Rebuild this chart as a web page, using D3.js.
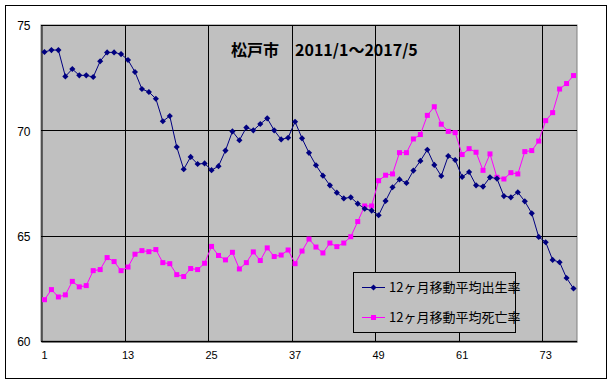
<!DOCTYPE html>
<html>
<head>
<meta charset="utf-8">
<script src="https://cdn.jsdelivr.net/npm/d3@7"></script>
<style>
  body { margin: 0; background: #fff; }
  svg { display: block; }
</style>
</head>
<body>
<svg id="chart" width="613" height="385"></svg>
<script>
const title = '松戸市　2011/1～2017/5'
const seriesNames = ['12ヶ月移動平均出生率', '12ヶ月移動平均死亡率']
const months = d3.range(1, 78)
const xTicks = [1, 13, 25, 37, 49, 61, 73]
const yTicks = [60, 65, 70, 75]

const birth = [
  73.72, 73.81, 73.81, 72.56, 72.91, 72.61, 72.61, 72.53, 73.28, 73.70, 73.70, 73.62,
  73.34, 72.77, 71.96, 71.82, 71.50, 70.43, 70.68, 69.21, 68.15, 68.74, 68.40, 68.43,
  68.11, 68.30, 69.04, 69.95, 69.53, 70.13, 70.00, 70.30, 70.57, 70.00, 69.57, 69.65,
  70.41, 69.62, 68.93, 68.34, 67.85, 67.39, 67.04, 66.77, 66.82, 66.52, 66.28, 66.19,
  65.97, 66.65, 67.30, 67.67, 67.50, 68.09, 68.55, 69.08, 68.36, 67.83, 68.78, 68.59,
  67.79, 68.02, 67.39, 67.33, 67.77, 67.71, 66.88, 66.82, 67.06, 66.63, 66.06, 64.94,
  64.69, 63.85, 63.74, 62.99, 62.49
]
const death = [
  61.96, 62.44, 62.09, 62.19, 62.83, 62.57, 62.63, 63.34, 63.39, 63.96, 63.77, 63.34,
  63.51, 64.12, 64.29, 64.24, 64.34, 63.72, 63.67, 63.15, 63.06, 63.44, 63.39, 63.69,
  64.49, 64.06, 63.85, 64.21, 63.42, 63.72, 64.23, 63.82, 64.42, 64.01, 64.08, 64.32,
  63.67, 64.27, 64.84, 64.46, 64.18, 64.65, 64.48, 64.65, 64.95, 65.67, 66.41, 66.41,
  67.61, 67.87, 67.93, 68.94, 68.94, 69.59, 69.80, 70.71, 71.12, 70.29, 69.95, 69.89,
  68.85, 69.13, 68.96, 68.10, 68.88, 67.77, 67.69, 67.99, 67.93, 68.99, 69.04, 69.49,
  70.46, 70.84, 71.96, 72.22, 72.60
]

const svg = d3.select('#chart')
const plotL = 41, plotR = 577, plotT = 25, plotB = 341
const numFont = '"Liberation Sans", Arial, sans-serif'
const jpFont = '"Noto Sans CJK JP", sans-serif'

// chart frame
svg.append('rect')
  .attr('x', 5.5).attr('y', 5.5)
  .attr('width', 601).attr('height', 373)
  .attr('fill', '#fff').attr('stroke', '#000')

const x = d3.scaleBand()
  .domain(months)
  .range([plotL, plotR])
const y = d3.scaleLinear()
  .domain([60, 75])
  .range([plotB, plotT])
const cx = d => x(d) + x.bandwidth() / 2

svg.append('rect')
  .attr('x', plotL).attr('y', plotT)
  .attr('width', plotR - plotL).attr('height', plotB - plotT)
  .attr('fill', '#c0c0c0').attr('stroke', '#808080')

// gridlines
svg.append('g')
  .selectAll('line')
  .data(yTicks)
  .join('line')
  .attr('x1', plotL).attr('x2', plotR)
  .attr('y1', d => Math.round(y(d)) + 0.5).attr('y2', d => Math.round(y(d)) + 0.5)
  .attr('stroke', '#000')

svg.append('g')
  .selectAll('line')
  .data(xTicks.slice(1))
  .join('line')
  .attr('x1', d => Math.round(x(d)) + 0.5).attr('x2', d => Math.round(x(d)) + 0.5)
  .attr('y1', plotT).attr('y2', plotB)
  .attr('stroke', '#000')

// axes
const yAxis = svg.append('g')
  .attr('transform', `translate(${plotL + 0.5},0)`)
  .call(d3.axisLeft(y).tickValues(yTicks).tickSize(0).tickPadding(11))
yAxis.select('.domain').attr('stroke', '#000')
yAxis.selectAll('text')
  .attr('font-family', numFont).attr('font-size', 12).attr('fill', '#000')
  .attr('dy', '0.4em')

const xAxis = svg.append('g')
  .attr('transform', `translate(0,${plotB + 0.5})`)
  .call(d3.axisBottom(x).tickValues(xTicks).tickSize(0).tickPadding(10))
xAxis.select('.domain').attr('stroke', '#000')
xAxis.selectAll('text')
  .attr('font-family', numFont).attr('font-size', 11).attr('fill', '#000')

// series
const line = d3.line()
  .x((d, i) => cx(months[i]))
  .y(d => y(d))

svg.append('path')
  .datum(death)
  .attr('d', line)
  .attr('fill', 'none').attr('stroke', '#ff00ff').attr('stroke-width', 1)

svg.append('g')
  .selectAll('rect')
  .data(death)
  .join('rect')
  .attr('x', (d, i) => cx(months[i]) - 2.5)
  .attr('y', d => y(d) - 2.5)
  .attr('width', 5).attr('height', 5)
  .attr('fill', '#ff00ff')

svg.append('path')
  .datum(birth)
  .attr('d', line)
  .attr('fill', 'none').attr('stroke', '#000080').attr('stroke-width', 1)

const diamond = d3.symbol().type(d3.symbolDiamond2).size(24)
svg.append('g')
  .selectAll('path')
  .data(birth)
  .join('path')
  .attr('transform', (d, i) => `translate(${cx(months[i])},${y(d)})`)
  .attr('d', diamond)
  .attr('fill', '#000080')

// title
svg.append('text')
  .attr('x', 231).attr('y', 56)
  .attr('font-family', jpFont).attr('font-weight', 'bold').attr('font-size', 16)
  .attr('fill', '#000')
  .text(title)

// legend
const legend = svg.append('g')
legend.append('rect')
  .attr('x', 353.5).attr('y', 272.5)
  .attr('width', 162).attr('height', 60)
  .attr('fill', '#c0c0c0').attr('stroke', '#000')

const legendRows = [
  { name: seriesNames[0], color: '#000080', shape: 'diamond', ly: 287 },
  { name: seriesNames[1], color: '#ff00ff', shape: 'square', ly: 317 }
]
legendRows.forEach(r => {
  legend.append('line')
    .attr('x1', 362).attr('x2', 385)
    .attr('y1', r.ly + 0.5).attr('y2', r.ly + 0.5)
    .attr('stroke', r.color)
  if (r.shape === 'diamond') {
    legend.append('path')
      .attr('transform', `translate(373.5,${r.ly + 0.5})`)
      .attr('d', diamond)
      .attr('fill', r.color)
  } else {
    legend.append('rect')
      .attr('x', 371).attr('y', r.ly - 2)
      .attr('width', 5).attr('height', 5)
      .attr('fill', r.color)
  }
  legend.append('text')
    .attr('x', 389).attr('y', r.ly + 5)
    .attr('font-family', jpFont).attr('font-size', 13)
    .attr('fill', '#000')
    .text(r.name)
})
</script>
</body>
</html>
